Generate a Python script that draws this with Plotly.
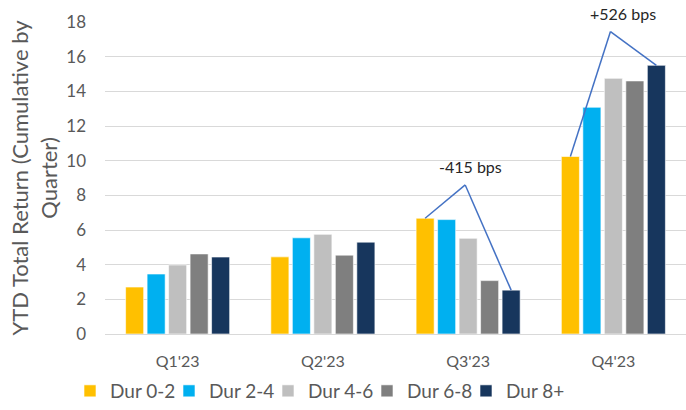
import plotly.graph_objects as go

quarters = ["Q1'23", "Q2'23", "Q3'23", "Q4'23"]
series_names = ["Dur 0-2", "Dur 2-4", "Dur 4-6", "Dur 6-8", "Dur 8+"]
dur_0_2 = [2.71, 4.45, 6.68, 10.24]
dur_2_4 = [3.46, 5.55, 6.60, 13.08]
dur_4_6 = [3.98, 5.75, 5.52, 14.75]
dur_6_8 = [4.62, 4.55, 3.08, 14.60]
dur_8p = [4.44, 5.30, 2.53, 15.50]
series_values = [dur_0_2, dur_2_4, dur_4_6, dur_6_8, dur_8p]
colors = ["#FFC000", "#00B0F0", "#BFBFBF", "#7F7F7F", "#17365D"]

# spread callouts: (quarter index, apex height, label x-shift in px)
callouts = [(2, 8.6, 5), (3, 17.45, 13)]

BARGAP = 0.26
BARGROUPGAP = 0.16
FONT = "Lato"
TXT = "#595959"

fig = go.Figure()
for name, vals, col in zip(series_names, series_values, colors):
    fig.add_trace(go.Bar(
        x=quarters, y=vals, name=name,
        marker=dict(color=col, line=dict(color="white", width=0.6)),
    ))

n = len(series_names)
slot = (1 - BARGAP) / n
first_off = -(1 - BARGAP) / 2 + slot / 2
last_off = -first_off

for qi, apex, shift in callouts:
    y_start = dur_0_2[qi]
    y_end = dur_8p[qi]
    x_start = qi + first_off
    x_end = qi + last_off
    x_apex = qi - 0.02
    line = dict(color="#4472C4", width=1.5)
    fig.add_shape(type="line", x0=x_start, y0=y_start, x1=x_apex, y1=apex,
                  xref="x", yref="y", line=line, layer="above")
    fig.add_shape(type="line", x0=x_apex, y0=apex, x1=x_end, y1=y_end,
                  xref="x", yref="y", line=line, layer="above")
    bps = round((y_end - y_start) * 100)
    label = f"+{bps} bps" if bps > 0 else f"{bps} bps"
    fig.add_annotation(x=x_apex, y=apex, text=label, showarrow=False,
                       yanchor="bottom", yshift=7, xshift=shift,
                       font=dict(family=FONT, size=16, color="#262626"))

fig.update_layout(
    width=686, height=410,
    margin=dict(l=105, r=0, t=22, b=76),
    paper_bgcolor="white", plot_bgcolor="white",
    barmode="group", bargap=BARGAP, bargroupgap=BARGROUPGAP,
    font=dict(family=FONT, color=TXT),
    showlegend=True,
    legend=dict(orientation="h", x=70 / 686, xref="container", xanchor="left",
                y=1 - 391 / 410, yref="container", yanchor="middle",
                font=dict(family=FONT, size=19, color=TXT),
                entrywidth=54, entrywidthmode="pixels",
                itemwidth=30, traceorder="normal"),
)
fig.update_yaxes(
    range=[0, 18], dtick=2, showgrid=True, gridcolor="#D9D9D9", gridwidth=1,
    zeroline=True, zerolinecolor="#D9D9D9", zerolinewidth=1,
    showline=False, ticks="", ticklabelstandoff=18,
    tickfont=dict(family=FONT, size=17, color=TXT),
    title=dict(text="YTD Total Return (Cumulative by<br>Quarter)",
               font=dict(family=FONT, size=22, color=TXT), standoff=2),
)
fig.update_xaxes(
    showgrid=False, showline=False, ticks="", ticklabelstandoff=16,
    tickfont=dict(family=FONT, size=16, color=TXT),
)

fig.write_html("out.html")
